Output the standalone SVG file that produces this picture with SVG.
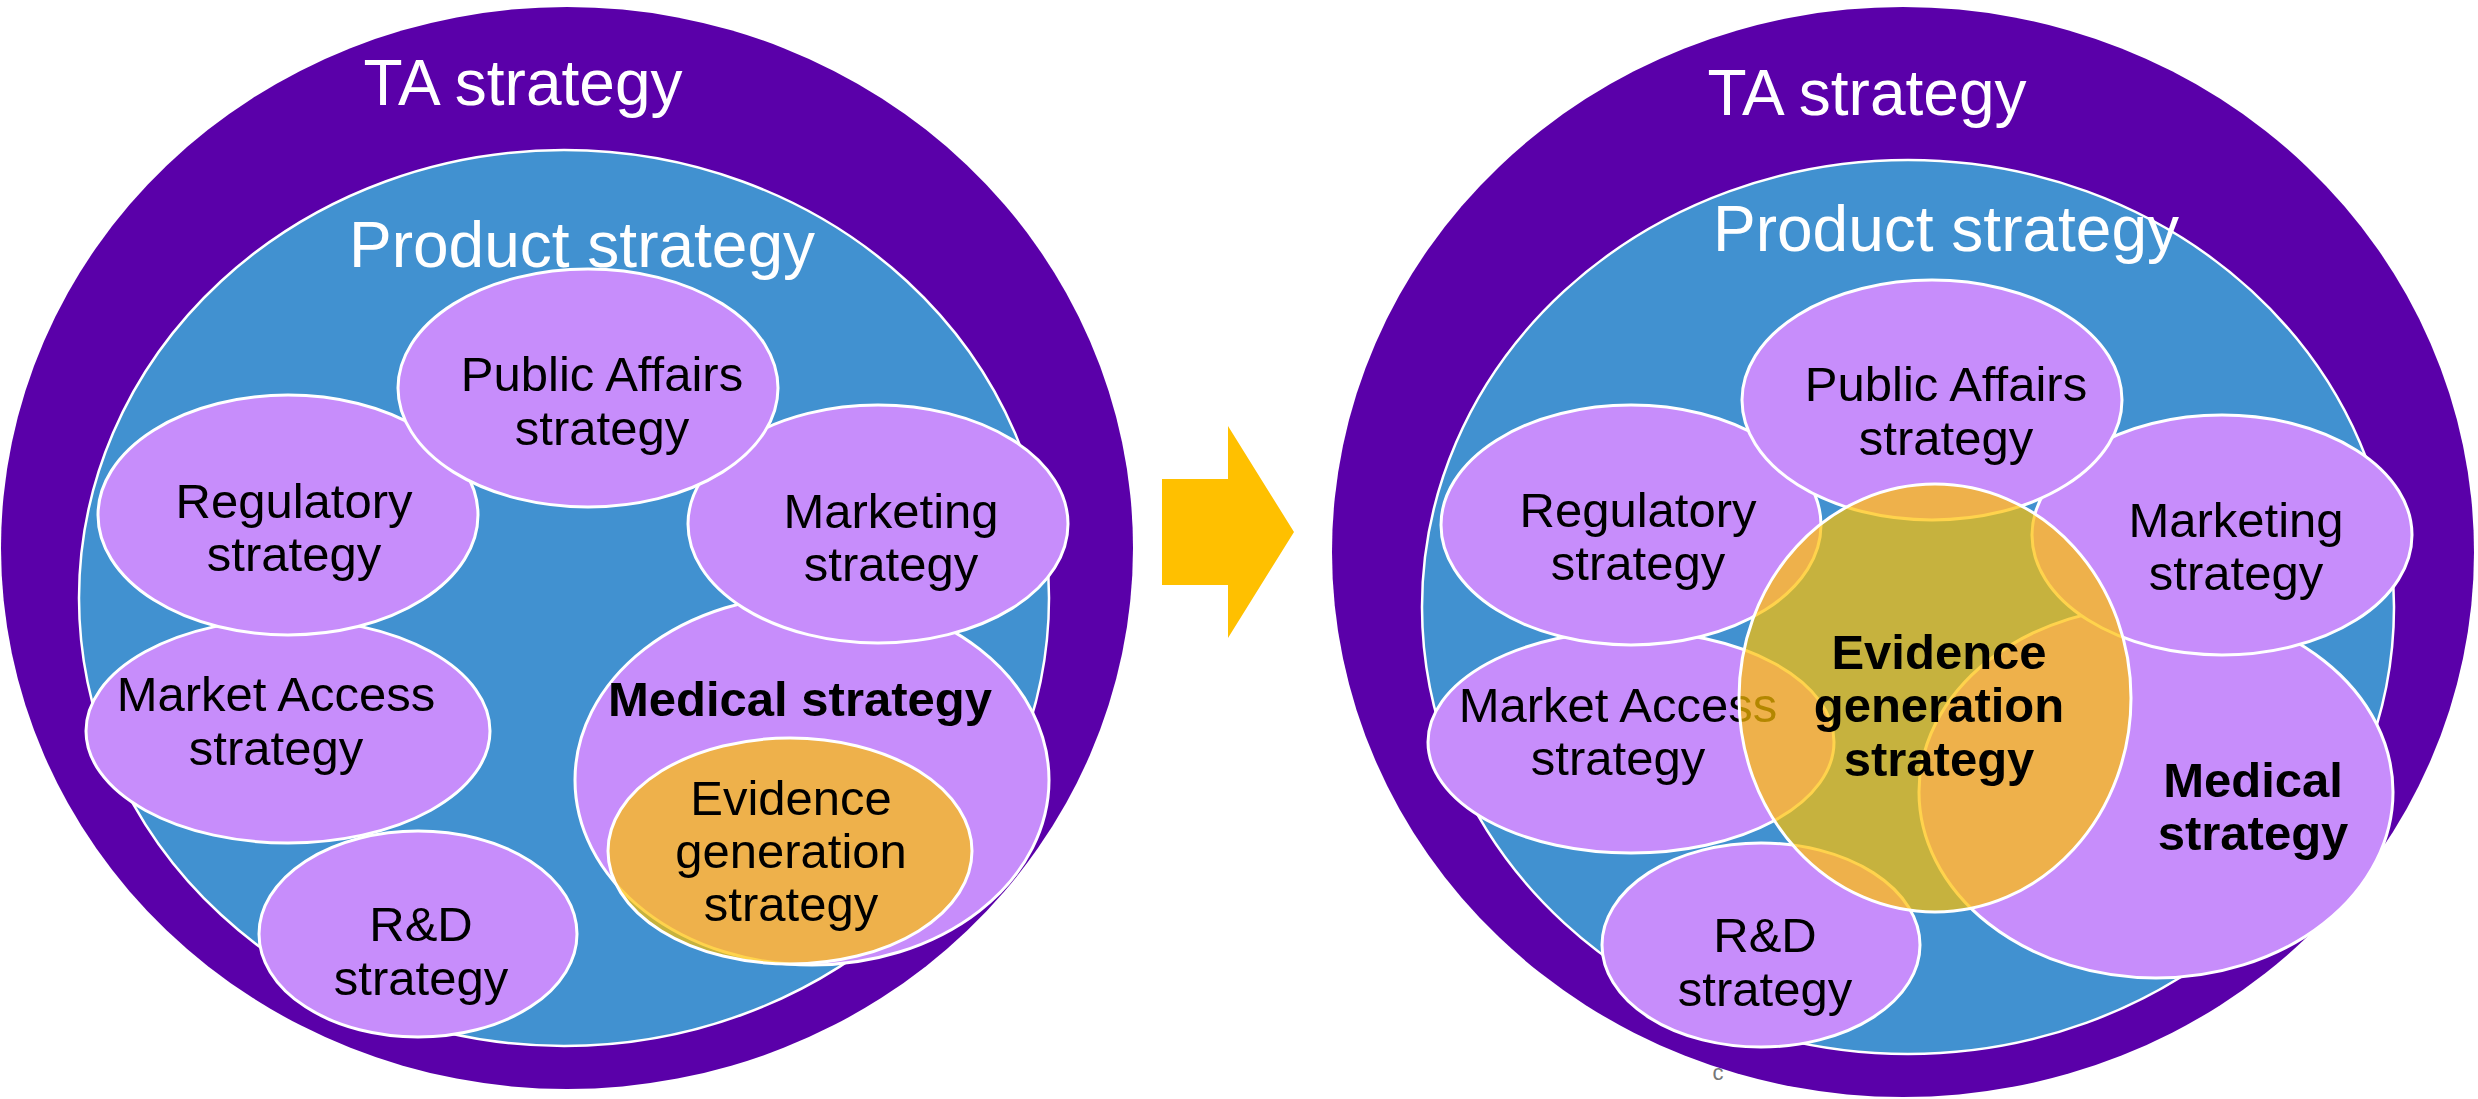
<svg xmlns="http://www.w3.org/2000/svg" width="2478" height="1099" viewBox="0 0 2478 1099">
<style>
.ta{fill:#5A00A9}
.prod{fill:#4191D0;stroke:#fff;stroke-width:2.5}
.el{fill:#C78DFB;stroke:#fff;stroke-width:3}
.ev{fill:#FFC000;fill-opacity:0.7;stroke:#fff;stroke-width:3}
text{font-family:"Liberation Sans",Arial,sans-serif;text-anchor:middle}
.big{font-size:64px;fill:#fff}
.lbl{font-size:49px;fill:#000}
.b{font-weight:bold}
</style>
<rect width="2478" height="1099" fill="#fff"/>

<!-- LEFT DIAGRAM -->
<g id="left-ta">
<ellipse class="ta" cx="567" cy="548" rx="566" ry="541"/>
<text class="big" x="523" y="105">TA strategy</text>
</g>
<g id="left-product">
<ellipse class="prod" cx="564" cy="598" rx="485" ry="448"/>
<text class="big" x="582" y="267">Product strategy</text>
</g>
<g id="left-medical">
<ellipse class="el" cx="812" cy="780" rx="237" ry="185"/>
<text class="lbl b" x="800" y="716">Medical strategy</text>
</g>
<g id="left-marketing">
<ellipse class="el" cx="878" cy="524" rx="190" ry="119"/>
<text class="lbl" x="891" y="528">Marketing</text>
<text class="lbl" x="891" y="581">strategy</text>
</g>
<g id="left-market-access">
<ellipse class="el" cx="288" cy="731" rx="202" ry="112"/>
<text class="lbl" x="276" y="711">Market Access</text>
<text class="lbl" x="276" y="765">strategy</text>
</g>
<g id="left-regulatory">
<ellipse class="el" cx="288" cy="515" rx="190" ry="120"/>
<text class="lbl" x="294" y="518">Regulatory</text>
<text class="lbl" x="294" y="571">strategy</text>
</g>
<g id="left-public-affairs">
<ellipse class="el" cx="588" cy="388" rx="190" ry="119"/>
<text class="lbl" x="602" y="391">Public Affairs</text>
<text class="lbl" x="602" y="445">strategy</text>
</g>
<g id="left-rd">
<ellipse class="el" cx="418" cy="934" rx="159" ry="103"/>
<text class="lbl" x="421" y="941">R&amp;D</text>
<text class="lbl" x="421" y="995">strategy</text>
</g>
<g id="left-evidence">
<ellipse class="ev" cx="790" cy="851" rx="182" ry="113"/>
<text class="lbl" x="791" y="815">Evidence</text>
<text class="lbl" x="791" y="868">generation</text>
<text class="lbl" x="791" y="921">strategy</text>
</g>

<!-- ARROW -->
<g id="connectors">
<polygon points="1162,479 1228,479 1228,426 1294,532 1228,638 1228,585 1162,585" fill="#FFC000"/>
</g>

<!-- RIGHT DIAGRAM -->
<g id="right-ta">
<ellipse class="ta" cx="1903" cy="552" rx="571" ry="545"/>
<text class="big" x="1867" y="115">TA strategy</text>
</g>
<g id="right-product">
<ellipse class="prod" cx="1908" cy="607" rx="486" ry="447"/>
<text class="big" x="1946" y="251">Product strategy</text>
</g>
<g id="right-medical">
<ellipse class="el" cx="2156" cy="792" rx="237" ry="186"/>
<text class="lbl b" x="2253" y="797">Medical</text>
<text class="lbl b" x="2253" y="850">strategy</text>
</g>
<g id="right-marketing">
<ellipse class="el" cx="2222" cy="535" rx="190" ry="120"/>
<text class="lbl" x="2236" y="537">Marketing</text>
<text class="lbl" x="2236" y="590">strategy</text>
</g>
<g id="right-market-access">
<ellipse class="el" cx="1631" cy="742" rx="203" ry="111"/>
<text class="lbl" x="1618" y="722">Market Access</text>
<text class="lbl" x="1618" y="775">strategy</text>
</g>
<g id="right-regulatory">
<ellipse class="el" cx="1631" cy="525" rx="190" ry="120"/>
<text class="lbl" x="1638" y="527">Regulatory</text>
<text class="lbl" x="1638" y="580">strategy</text>
</g>
<g id="right-public-affairs">
<ellipse class="el" cx="1932" cy="400" rx="190" ry="120"/>
<text class="lbl" x="1946" y="401">Public Affairs</text>
<text class="lbl" x="1946" y="455">strategy</text>
</g>
<g id="right-rd">
<ellipse class="el" cx="1761" cy="945" rx="159" ry="102"/>
<text class="lbl" x="1765" y="952">R&amp;D</text>
<text class="lbl" x="1765" y="1006">strategy</text>
</g>
<g id="right-evidence">
<ellipse class="ev" cx="1935" cy="698" rx="196" ry="214"/>
<text class="lbl b" x="1939" y="669">Evidence</text>
<text class="lbl b" x="1939" y="722">generation</text>
<text class="lbl b" x="1939" y="776">strategy</text>
</g>
<text x="1718" y="1080" style="font-size:22px;fill:#777">c</text>
</svg>
